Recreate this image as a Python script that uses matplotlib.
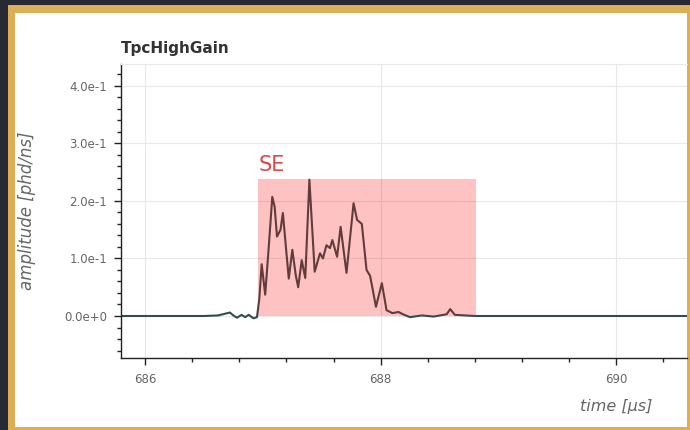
import matplotlib.pyplot as plt
from matplotlib.patches import Rectangle
from matplotlib.ticker import MultipleLocator, FuncFormatter

# waveform samples (time in us, amplitude in phd/ns)
time_us = [685.80, 686.50, 686.62, 686.68, 686.72, 686.75, 686.78, 686.82,
           686.85, 686.88, 686.92, 686.95, 686.97, 686.99, 687.02, 687.05,
           687.08, 687.10, 687.12, 687.15, 687.17, 687.20, 687.22, 687.25,
           687.28, 687.30, 687.33, 687.36, 687.395, 687.44, 687.485, 687.51,
           687.54, 687.57, 687.59, 687.63, 687.66, 687.71, 687.77, 687.80,
           687.84, 687.88, 687.91, 687.96, 688.01, 688.05, 688.10, 688.15,
           688.20, 688.25, 688.35, 688.45, 688.56, 688.59, 688.63, 688.80,
           690.60]
amplitude = [0.0, 0.0, 0.001, 0.004, 0.006, 0.001, -0.003, 0.002,
             -0.002, 0.002, -0.004, -0.002, 0.03, 0.09, 0.037, 0.12,
             0.207, 0.19, 0.138, 0.15, 0.179, 0.11, 0.065, 0.115,
             0.07, 0.05, 0.097, 0.066, 0.237, 0.077, 0.109, 0.10,
             0.123, 0.118, 0.132, 0.103, 0.155, 0.075, 0.196, 0.167,
             0.16, 0.08, 0.07, 0.016, 0.057, 0.01, 0.005, 0.007,
             0.002, -0.002, 0.001, -0.001, 0.003, 0.012, 0.002, 0.0,
             0.0]

# single-electron window
se_start, se_end, se_height = 686.96, 688.81, 0.238
se_label = "SE"

xlim = (685.796, 690.60)
ylim = (-0.073, 0.438)

fig = plt.figure(figsize=(6.9, 4.3), dpi=100)
fig.patch.set_facecolor('#272a35')
W, H = 690, 430
# gold frame and white panel
fig.patches.append(Rectangle((8 / W, 0), 1 - 8 / W, 1 - 5 / H, transform=fig.transFigure,
                             facecolor='#dcae55', edgecolor='none', zorder=-2))
fig.patches.append(Rectangle((15 / W, 3 / H), (687 - 15) / W, (427 - 13) / H,
                             transform=fig.transFigure, facecolor='white',
                             edgecolor='none', zorder=-1))

ax = fig.add_axes([121 / W, 1 - 358 / H, (687 - 121) / W, (358 - 64) / H])
ax.set_zorder(1)
ax.set_facecolor('white')

ax.plot(time_us, amplitude, color='#2f4f4f', lw=1.5, zorder=2,
        solid_joinstyle='round')
ax.add_patch(Rectangle((se_start, 0), se_end - se_start, se_height,
                       facecolor='#ff0000', alpha=0.24, edgecolor='none', zorder=3))
ax.text(se_start, se_height + 0.007, se_label, color='#e0474c', fontsize=15,
        ha='left', va='bottom')

ax.set_xlim(*xlim)
ax.set_ylim(*ylim)
ax.xaxis.set_major_locator(MultipleLocator(2))
ax.xaxis.set_minor_locator(MultipleLocator(0.4))
ax.yaxis.set_major_locator(MultipleLocator(0.1))
ax.yaxis.set_minor_locator(MultipleLocator(0.02))

def sci_fmt(v, pos):
    if abs(v) < 1e-9:
        return "0.0e+0"
    return "%.1fe-1" % (v * 10)

ax.yaxis.set_major_formatter(FuncFormatter(sci_fmt))
ax.xaxis.set_major_formatter(FuncFormatter(lambda v, p: "%d" % round(v)))

ax.grid(True, which='major', color='#e8e8e8', lw=0.8, zorder=0)
ax.set_axisbelow(True)

for s in ['left', 'bottom']:
    ax.spines[s].set_color('#222222')
    ax.spines[s].set_linewidth(1.0)
ax.spines['right'].set_visible(False)
ax.spines['top'].set_color('#e8e8e8')
ax.spines['top'].set_linewidth(0.8)

ax.tick_params(which='major', direction='out', length=5, width=1, color='#222222',
               labelsize=8.5, labelcolor='#666666', pad=5)
ax.tick_params(which='minor', direction='out', length=3, width=1, color='#222222')
ax.tick_params(axis='x', which='major', pad=6)

ax.set_ylabel("amplitude [phd/ns]", fontsize=12, style='italic', color='#666666',
              labelpad=10)
ax.yaxis.set_label_coords(-(121 - 36) / (687 - 121), 0.5)
fig.text(652 / W, 1 - 407 / H, "time [\u00b5s]", fontsize=11.5, style='italic',
         color='#666666', ha='right', va='center')
fig.text(121 / W, 1 - 48 / H, "TpcHighGain", fontsize=11, fontweight='bold',
         color='#333333', ha='left', va='center')

fig.savefig('out.png', dpi=100, facecolor=fig.get_facecolor())
